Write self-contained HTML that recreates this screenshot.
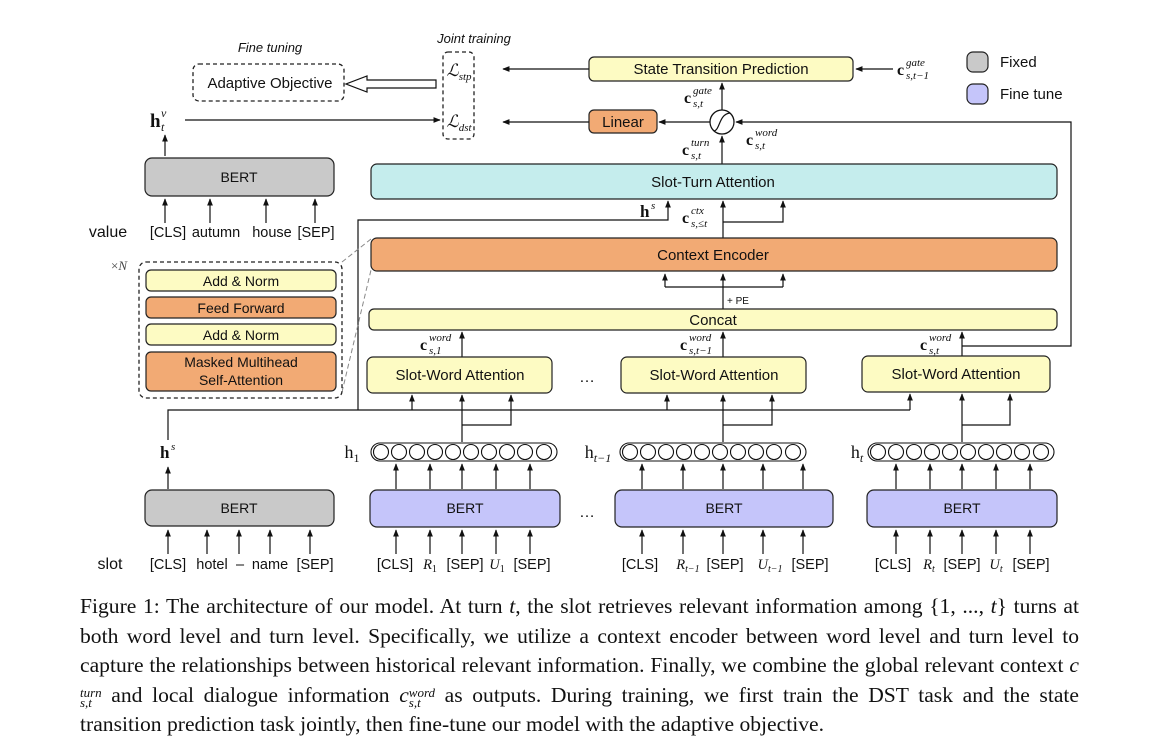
<!DOCTYPE html>
<html><head><meta charset="utf-8"><style>
body{margin:0;background:#fff;width:1156px;height:746px;overflow:hidden;position:relative;font-family:"Liberation Sans",sans-serif}
svg{position:absolute;left:0;top:0}
.cap{position:absolute;left:80px;top:592px;width:999px;font-family:"Liberation Serif",serif;font-size:21.6px;line-height:29.6px;text-align:justify;color:#111}
.m{font-style:italic}
.ss{display:inline-block;vertical-align:-5px;line-height:10px;font-size:13px;font-style:italic;height:20px}
</style></head><body>
<svg width="1156" height="746" viewBox="0 0 1156 746">
<defs>
<marker id="a" viewBox="0 0 10 10" refX="9" refY="5" markerWidth="6" markerHeight="6" orient="auto"><path d="M0,1 L10,5 L0,9 z" fill="#111"/></marker>
</defs>
<g font-family="Liberation Sans, sans-serif" font-size="14" fill="#111" text-anchor="middle">
<text x="270" y="52" font-style="italic" font-size="13">Fine tuning</text>
<text x="474" y="43" font-style="italic" font-size="13">Joint training</text>
<rect x="193" y="64" width="151" height="37" rx="6" fill="none" stroke="#222" stroke-dasharray="4,3" stroke-width="1.3"/>
<text x="270" y="88" font-size="15">Adaptive Objective</text>
<path d="M436,80 L367,80 L367,76 L346,84 L367,92 L367,88 L436,88 z" fill="#fff" stroke="#111" stroke-width="1.2"/>
<rect x="443" y="52" width="31" height="87" rx="5" fill="none" stroke="#222" stroke-dasharray="4,3" stroke-width="1.3"/>
<text x="459" y="76" font-family="Liberation Serif, serif" font-style="italic" font-size="17">ℒ<tspan font-size="11" dy="4">stp</tspan></text>
<text x="459" y="127" font-family="Liberation Serif, serif" font-style="italic" font-size="17">ℒ<tspan font-size="11" dy="4">dst</tspan></text>
<rect x="589" y="57" width="264" height="24" rx="5" fill="#fdfbc3" stroke="#222" stroke-width="1.2"/>
<text x="721" y="74" font-size="15">State Transition Prediction</text>
<line x1="589" y1="69" x2="503" y2="69" stroke="#111" stroke-width="1.2" marker-end="url(#a)"/>
<line x1="893" y1="69" x2="856" y2="69" stroke="#111" stroke-width="1.2" marker-end="url(#a)"/>
<g font-family="Liberation Serif, serif" text-anchor="start">
<text x="897" y="75" font-weight="bold" font-size="16">c</text><text x="906" y="66" font-style="italic" font-size="11">gate</text><text x="906" y="79" font-style="italic" font-size="11">s,t−1</text>
<text x="684" y="103" font-weight="bold" font-size="16">c</text><text x="693" y="94" font-style="italic" font-size="11">gate</text><text x="693" y="107" font-style="italic" font-size="11">s,t</text>
<text x="682" y="155" font-weight="bold" font-size="16">c</text><text x="691" y="146" font-style="italic" font-size="11">turn</text><text x="691" y="159" font-style="italic" font-size="11">s,t</text>
<text x="746" y="145" font-weight="bold" font-size="16">c</text><text x="755" y="136" font-style="italic" font-size="11">word</text><text x="755" y="149" font-style="italic" font-size="11">s,t</text>
<text x="682" y="223" font-weight="bold" font-size="16">c</text><text x="691" y="214" font-style="italic" font-size="11">ctx</text><text x="691" y="227" font-style="italic" font-size="11">s,≤t</text>
<text x="420" y="350" font-weight="bold" font-size="16">c</text><text x="429" y="341" font-style="italic" font-size="11">word</text><text x="429" y="354" font-style="italic" font-size="11">s,1</text>
<text x="680" y="350" font-weight="bold" font-size="16">c</text><text x="689" y="341" font-style="italic" font-size="11">word</text><text x="689" y="354" font-style="italic" font-size="11">s,t−1</text>
<text x="920" y="350" font-weight="bold" font-size="16">c</text><text x="929" y="341" font-style="italic" font-size="11">word</text><text x="929" y="354" font-style="italic" font-size="11">s,t</text>
<text x="150" y="127" font-weight="bold" font-size="19">h</text><text x="161" y="117" font-style="italic" font-size="12">v</text><text x="161" y="131" font-style="italic" font-size="12">t</text>
<text x="640" y="217" font-weight="bold" font-size="17">h</text><text x="651" y="209" font-style="italic" font-size="11">s</text>
<text x="160" y="458" font-weight="bold" font-size="17">h</text><text x="171" y="450" font-style="italic" font-size="11">s</text>
</g>
<rect x="967" y="52" width="21" height="20" rx="6" fill="#c9c9c9" stroke="#222" stroke-width="1.2"/>
<text x="1000" y="67" text-anchor="start" font-size="15">Fixed</text>
<rect x="967" y="84" width="21" height="20" rx="6" fill="#c5c5fa" stroke="#222" stroke-width="1.2"/>
<text x="1000" y="99" text-anchor="start" font-size="15">Fine tune</text>
<circle cx="722" cy="122" r="12" fill="#fff" stroke="#111" stroke-width="1.3"/>
<path d="M714,131 C720,130 719,114 730,113" fill="none" stroke="#111" stroke-width="1.2"/>
<line x1="722" y1="110" x2="722" y2="83" stroke="#111" stroke-width="1.2" marker-end="url(#a)"/>
<line x1="722" y1="164" x2="722" y2="136" stroke="#111" stroke-width="1.2" marker-end="url(#a)"/>
<line x1="710" y1="122" x2="659" y2="122" stroke="#111" stroke-width="1.2" marker-end="url(#a)"/>
<rect x="589" y="110" width="68" height="23" rx="5" fill="#f2aa74" stroke="#222" stroke-width="1.2"/>
<text x="623" y="127" font-size="15">Linear</text>
<line x1="589" y1="122" x2="503" y2="122" stroke="#111" stroke-width="1.2" marker-end="url(#a)"/>
<line x1="185" y1="120" x2="440" y2="120" stroke="#111" stroke-width="1.2" marker-end="url(#a)"/>
<line x1="165" y1="156" x2="165" y2="135" stroke="#111" stroke-width="1.2" marker-end="url(#a)"/>
<polyline points="962,346 1071,346 1071,122 736,122" fill="none" stroke="#111" stroke-width="1.2" marker-end="url(#a)"/>
<rect x="371" y="164" width="686" height="35" rx="6" fill="#c5eded" stroke="#222" stroke-width="1.2"/>
<text x="713" y="187" font-size="15">Slot-Turn Attention</text>
<polyline points="358,410 358,220 668,220 668,201" fill="none" stroke="#111" stroke-width="1.2" marker-end="url(#a)"/>
<line x1="723" y1="238" x2="723" y2="201" stroke="#111" stroke-width="1.2" marker-end="url(#a)"/>
<polyline points="723,222 783,222 783,201" fill="none" stroke="#111" stroke-width="1.2" marker-end="url(#a)"/>
<rect x="371" y="238" width="686" height="33" rx="6" fill="#f2aa74" stroke="#222" stroke-width="1.2"/>
<text x="713" y="260" font-size="15">Context Encoder</text>
<line x1="723" y1="309" x2="723" y2="274" stroke="#111" stroke-width="1.2" marker-end="url(#a)"/>
<polyline points="665,287 783,287" fill="none" stroke="#111" stroke-width="1.2"/>
<line x1="665" y1="287" x2="665" y2="274" stroke="#111" stroke-width="1.2" marker-end="url(#a)"/>
<line x1="783" y1="287" x2="783" y2="274" stroke="#111" stroke-width="1.2" marker-end="url(#a)"/>
<text x="738" y="304" font-size="10">+ PE</text>
<rect x="369" y="309" width="688" height="21" rx="5" fill="#fdfbc3" stroke="#222" stroke-width="1.2"/>
<text x="713" y="325" font-size="15">Concat</text>
<line x1="462" y1="357" x2="462" y2="332" stroke="#111" stroke-width="1.2" marker-end="url(#a)"/>
<line x1="723" y1="357" x2="723" y2="332" stroke="#111" stroke-width="1.2" marker-end="url(#a)"/>
<line x1="962" y1="356" x2="962" y2="332" stroke="#111" stroke-width="1.2" marker-end="url(#a)"/>
<rect x="367" y="357" width="185" height="36" rx="6" fill="#fdfbc3" stroke="#222" stroke-width="1.2"/>
<text x="460" y="380" font-size="15">Slot-Word Attention</text>
<rect x="621" y="357" width="185" height="36" rx="6" fill="#fdfbc3" stroke="#222" stroke-width="1.2"/>
<text x="714" y="380" font-size="15">Slot-Word Attention</text>
<rect x="862" y="356" width="188" height="36" rx="6" fill="#fdfbc3" stroke="#222" stroke-width="1.2"/>
<text x="956" y="379" font-size="15">Slot-Word Attention</text>
<text x="587" y="382" font-size="16">…</text>
<polyline points="168,440 168,410 910,410" fill="none" stroke="#111" stroke-width="1.2"/>
<g stroke="#111" stroke-width="1.2" fill="none">
<line x1="412" y1="410" x2="412" y2="395" marker-end="url(#a)"/>
<line x1="667" y1="410" x2="667" y2="395" marker-end="url(#a)"/>
<line x1="910" y1="410" x2="910" y2="394" marker-end="url(#a)"/>
<line x1="462" y1="442" x2="462" y2="395" marker-end="url(#a)"/>
<polyline points="462,425 511,425 511,395" marker-end="url(#a)"/>
<line x1="723" y1="442" x2="723" y2="395" marker-end="url(#a)"/>
<polyline points="723,425 772,425 772,395" marker-end="url(#a)"/>
<line x1="962" y1="442" x2="962" y2="394" marker-end="url(#a)"/>
<polyline points="962,425 1010,425 1010,394" marker-end="url(#a)"/>
</g>
<line x1="168" y1="489" x2="168" y2="467" stroke="#111" stroke-width="1.2" marker-end="url(#a)"/>
<text x="352" y="458" font-family="Liberation Serif, serif" font-size="18">h<tspan font-size="12" dy="4">1</tspan></text>
<text x="598" y="458" font-family="Liberation Serif, serif" font-size="18">h<tspan font-size="12" font-style="italic" dy="4">t−1</tspan></text>
<text x="857" y="458" font-family="Liberation Serif, serif" font-size="18">h<tspan font-size="12" font-style="italic" dy="4">t</tspan></text>
<g fill="#fff" stroke="#111" stroke-width="1.1">
<rect x="371" y="443" width="186" height="18" rx="9"/>
<rect x="620" y="443" width="186" height="18" rx="9"/>
<rect x="868" y="443" width="186" height="18" rx="9"/>
</g>
<g fill="none" stroke="#111" stroke-width="1.1" id="cs">
<circle cx="381" cy="452" r="7.5"/><circle cx="399" cy="452" r="7.5"/><circle cx="417" cy="452" r="7.5"/><circle cx="435" cy="452" r="7.5"/><circle cx="453" cy="452" r="7.5"/><circle cx="471" cy="452" r="7.5"/><circle cx="489" cy="452" r="7.5"/><circle cx="507" cy="452" r="7.5"/><circle cx="525" cy="452" r="7.5"/><circle cx="544" cy="452" r="7.5"/>
</g>
<use href="#cs" x="249"/><use href="#cs" x="497"/>
<g stroke="#111" stroke-width="1.2">
<line x1="396" y1="489" x2="396" y2="464" marker-end="url(#a)"/><line x1="430" y1="489" x2="430" y2="464" marker-end="url(#a)"/><line x1="462" y1="489" x2="462" y2="464" marker-end="url(#a)"/><line x1="496" y1="489" x2="496" y2="464" marker-end="url(#a)"/><line x1="530" y1="489" x2="530" y2="464" marker-end="url(#a)"/>
<line x1="642" y1="489" x2="642" y2="464" marker-end="url(#a)"/><line x1="683" y1="489" x2="683" y2="464" marker-end="url(#a)"/><line x1="723" y1="489" x2="723" y2="464" marker-end="url(#a)"/><line x1="763" y1="489" x2="763" y2="464" marker-end="url(#a)"/><line x1="803" y1="489" x2="803" y2="464" marker-end="url(#a)"/>
<line x1="896" y1="489" x2="896" y2="464" marker-end="url(#a)"/><line x1="930" y1="489" x2="930" y2="464" marker-end="url(#a)"/><line x1="962" y1="489" x2="962" y2="464" marker-end="url(#a)"/><line x1="996" y1="489" x2="996" y2="464" marker-end="url(#a)"/><line x1="1030" y1="489" x2="1030" y2="464" marker-end="url(#a)"/>
<line x1="168" y1="554" x2="168" y2="530" marker-end="url(#a)"/><line x1="207" y1="554" x2="207" y2="530" marker-end="url(#a)"/><line x1="239" y1="554" x2="239" y2="530" marker-end="url(#a)"/><line x1="270" y1="554" x2="270" y2="530" marker-end="url(#a)"/><line x1="310" y1="554" x2="310" y2="530" marker-end="url(#a)"/>
<line x1="396" y1="554" x2="396" y2="530" marker-end="url(#a)"/><line x1="430" y1="554" x2="430" y2="530" marker-end="url(#a)"/><line x1="462" y1="554" x2="462" y2="530" marker-end="url(#a)"/><line x1="496" y1="554" x2="496" y2="530" marker-end="url(#a)"/><line x1="530" y1="554" x2="530" y2="530" marker-end="url(#a)"/>
<line x1="642" y1="554" x2="642" y2="530" marker-end="url(#a)"/><line x1="683" y1="554" x2="683" y2="530" marker-end="url(#a)"/><line x1="723" y1="554" x2="723" y2="530" marker-end="url(#a)"/><line x1="763" y1="554" x2="763" y2="530" marker-end="url(#a)"/><line x1="803" y1="554" x2="803" y2="530" marker-end="url(#a)"/>
<line x1="896" y1="554" x2="896" y2="530" marker-end="url(#a)"/><line x1="930" y1="554" x2="930" y2="530" marker-end="url(#a)"/><line x1="962" y1="554" x2="962" y2="530" marker-end="url(#a)"/><line x1="996" y1="554" x2="996" y2="530" marker-end="url(#a)"/><line x1="1030" y1="554" x2="1030" y2="530" marker-end="url(#a)"/>
<line x1="165" y1="223" x2="165" y2="199" marker-end="url(#a)"/><line x1="210" y1="223" x2="210" y2="199" marker-end="url(#a)"/><line x1="266" y1="223" x2="266" y2="199" marker-end="url(#a)"/><line x1="315" y1="223" x2="315" y2="199" marker-end="url(#a)"/>
</g>
<rect x="145" y="158" width="189" height="38" rx="7" fill="#c9c9c9" stroke="#222" stroke-width="1.2"/>
<text x="239" y="182">BERT</text>
<rect x="145" y="490" width="189" height="36" rx="7" fill="#c9c9c9" stroke="#222" stroke-width="1.2"/>
<text x="239" y="513">BERT</text>
<rect x="370" y="490" width="190" height="37" rx="7" fill="#c5c5fa" stroke="#222" stroke-width="1.2"/>
<text x="465" y="513">BERT</text>
<rect x="615" y="490" width="218" height="37" rx="7" fill="#c5c5fa" stroke="#222" stroke-width="1.2"/>
<text x="724" y="513">BERT</text>
<rect x="867" y="490" width="190" height="37" rx="7" fill="#c5c5fa" stroke="#222" stroke-width="1.2"/>
<text x="962" y="513">BERT</text>
<text x="587" y="517" font-size="16">…</text>
<g font-size="14.5">
<text x="108" y="237" font-size="16">value</text>
<text x="168" y="237">[CLS]</text><text x="216" y="237">autumn</text><text x="272" y="237">house</text><text x="316" y="237">[SEP]</text>
<text x="110" y="569" font-size="16">slot</text>
<text x="168" y="569">[CLS]</text><text x="212" y="569">hotel</text><text x="240" y="569">–</text><text x="270" y="569">name</text><text x="315" y="569">[SEP]</text>
<text x="395" y="569">[CLS]</text><text x="430" y="569" font-family="Liberation Serif, serif" font-style="italic">R<tspan font-size="10" font-style="normal" dy="3">1</tspan></text><text x="465" y="569">[SEP]</text><text x="497" y="569" font-family="Liberation Serif, serif" font-style="italic">U<tspan font-size="10" font-style="normal" dy="3">1</tspan></text><text x="532" y="569">[SEP]</text>
<text x="640" y="569">[CLS]</text><text x="688" y="569" font-family="Liberation Serif, serif" font-style="italic">R<tspan font-size="10" dy="3">t−1</tspan></text><text x="725" y="569">[SEP]</text><text x="770" y="569" font-family="Liberation Serif, serif" font-style="italic">U<tspan font-size="10" dy="3">t−1</tspan></text><text x="810" y="569">[SEP]</text>
<text x="893" y="569">[CLS]</text><text x="929" y="569" font-family="Liberation Serif, serif" font-style="italic">R<tspan font-size="10" dy="3">t</tspan></text><text x="962" y="569">[SEP]</text><text x="996" y="569" font-family="Liberation Serif, serif" font-style="italic">U<tspan font-size="10" dy="3">t</tspan></text><text x="1031" y="569">[SEP]</text>
</g>
<line x1="342" y1="262" x2="371" y2="239" stroke="#888" stroke-dasharray="5,3" stroke-width="1"/>
<line x1="342" y1="392" x2="371" y2="270" stroke="#888" stroke-dasharray="5,3" stroke-width="1"/>
<text x="119" y="270" font-family="Liberation Serif, serif" font-size="13" fill="#444">×<tspan font-style="italic">N</tspan></text>
<rect x="139" y="262" width="203" height="136" rx="7" fill="#fff" stroke="#222" stroke-dasharray="4,3" stroke-width="1.3"/>
<rect x="146" y="270" width="190" height="21" rx="5" fill="#fdfbc3" stroke="#222" stroke-width="1.2"/>
<text x="241" y="286">Add &amp; Norm</text>
<rect x="146" y="297" width="190" height="21" rx="5" fill="#f2aa74" stroke="#222" stroke-width="1.2"/>
<text x="241" y="313">Feed Forward</text>
<rect x="146" y="324" width="190" height="21" rx="5" fill="#fdfbc3" stroke="#222" stroke-width="1.2"/>
<text x="241" y="340">Add &amp; Norm</text>
<rect x="146" y="352" width="190" height="39" rx="5" fill="#f2aa74" stroke="#222" stroke-width="1.2"/>
<text x="241" y="367">Masked Multihead</text>
<text x="241" y="385">Self-Attention</text>
</g>
</svg>
<div class="cap">Figure 1: The architecture of our model. At turn <span class="m">t</span>, the slot retrieves relevant information among {1, ..., <span class="m">t</span>} turns at both word level and turn level. Specifically, we utilize a context encoder between word level and turn level to capture the relationships between historical relevant information. Finally, we combine the global relevant context <span class="m">c</span><span class="ss">turn<br>s,t</span> and local dialogue information <span class="m">c</span><span class="ss">word<br>s,t</span> as outputs. During training, we first train the DST task and the state transition prediction task jointly, then fine-tune our model with the adaptive objective.</div>
</body></html>
